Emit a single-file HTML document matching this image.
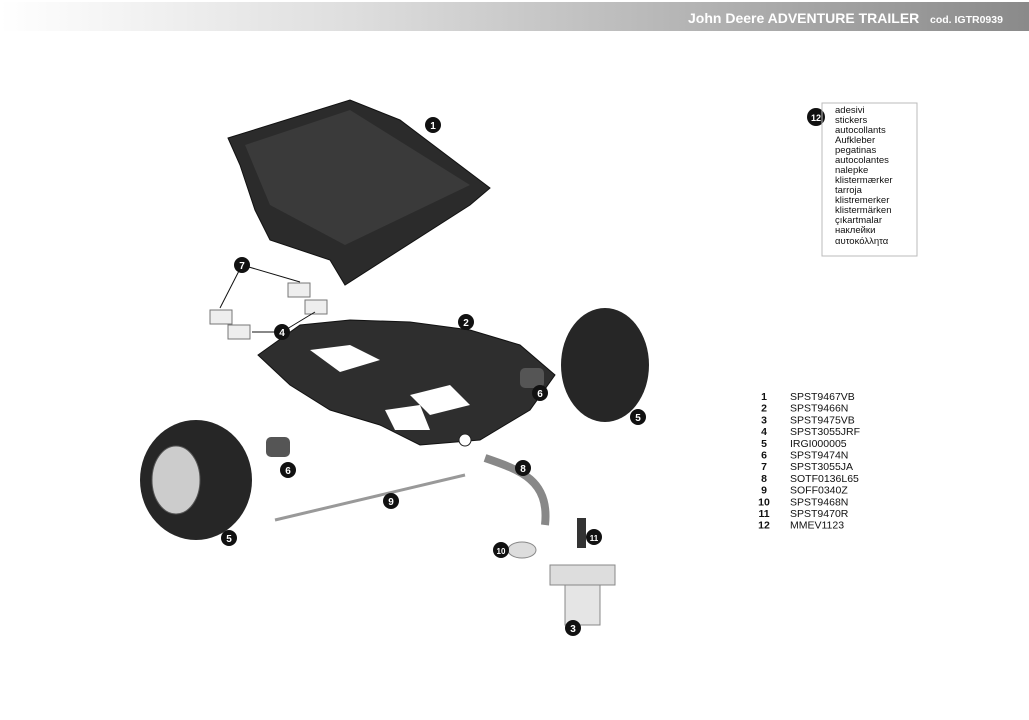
<!DOCTYPE html><html><head><style>
body{margin:0;width:1029px;height:715px;background:#fff;overflow:hidden;font-family:"Liberation Sans",sans-serif}
</style></head><body>
<svg width="1029" height="715" xmlns="http://www.w3.org/2000/svg">
<defs><linearGradient id="h" x1="0" x2="1"><stop offset="0" stop-color="#fff"/><stop offset="0.35" stop-color="#ddd"/><stop offset="1" stop-color="#8a8a8a"/></linearGradient></defs>
<rect x="0" y="2" width="1029" height="29" fill="url(#h)"/>
<text x="688" y="23" fill="#fff" font-weight="bold" font-size="14">John Deere ADVENTURE TRAILER</text>
<text x="930" y="23" fill="#fff" font-weight="bold" font-size="10.5">cod. IGTR0939</text>
<!-- tub -->
<polygon points="228,138 350,100 400,120 490,188 470,205 345,285 330,260 270,240 255,210 240,165" fill="#2b2b2b" stroke="#111"/>
<polygon points="245,145 350,110 470,185 345,245 270,205" fill="#3a3a3a"/>
<!-- chassis -->
<polygon points="258,355 300,325 350,320 410,322 470,330 520,345 555,375 530,410 480,440 420,445 380,425 330,410 290,385" fill="#2e2e2e" stroke="#111"/>
<polygon points="310,350 350,345 380,360 340,372" fill="#fff"/>
<polygon points="410,395 450,385 470,405 430,415" fill="#fff"/>
<polygon points="385,410 420,405 430,430 395,430" fill="#fff"/>
<circle cx="465" cy="440" r="6" fill="#fff" stroke="#222"/>
<!-- wheels -->
<ellipse cx="605" cy="365" rx="44" ry="57" fill="#262626"/>
<ellipse cx="196" cy="480" rx="56" ry="60" fill="#262626"/>
<ellipse cx="176" cy="480" rx="24" ry="34" fill="#ccc" stroke="#555"/>
<!-- bushings -->
<rect x="520" y="368" width="24" height="20" rx="5" fill="#555"/>
<rect x="266" y="437" width="24" height="20" rx="5" fill="#555"/>
<!-- axle -->
<line x1="275" y1="520" x2="465" y2="475" stroke="#999" stroke-width="3"/>
<!-- tongue -->
<path d="M485,458 C520,470 550,480 545,525" stroke="#888" stroke-width="8" fill="none"/>
<rect x="577" y="518" width="9" height="30" fill="#333"/>
<rect x="550" y="565" width="65" height="20" fill="#ddd" stroke="#888"/>
<rect x="565" y="585" width="35" height="40" fill="#e5e5e5" stroke="#888"/>
<ellipse cx="522" cy="550" rx="14" ry="8" fill="#ddd" stroke="#888"/>
<!-- small parts 7,4 -->
<g fill="#eee" stroke="#777"><rect x="210" y="310" width="22" height="14"/><rect x="288" y="283" width="22" height="14"/><rect x="305" y="300" width="22" height="14"/><rect x="228" y="325" width="22" height="14"/></g>
<g stroke="#111"><line x1="242" y1="265" x2="220" y2="308"/><line x1="242" y1="265" x2="300" y2="282"/><line x1="282" y1="332" x2="252" y2="332"/><line x1="282" y1="332" x2="315" y2="312"/></g>
<g fill="#111" font-weight="bold" font-size="10" text-anchor="middle">
<circle cx="433" cy="125" r="8"/><circle cx="466" cy="322" r="8"/><circle cx="573" cy="628" r="8"/><circle cx="282" cy="332" r="8"/><circle cx="638" cy="417" r="8"/><circle cx="229" cy="538" r="8"/><circle cx="540" cy="393" r="8"/><circle cx="288" cy="470" r="8"/><circle cx="242" cy="265" r="8"/><circle cx="523" cy="468" r="8"/><circle cx="391" cy="501" r="8"/><circle cx="501" cy="550" r="8"/><circle cx="594" cy="537" r="8"/><circle cx="816" cy="117" r="9"/>
<g fill="#fff"><text x="433" y="129">1</text><text x="466" y="326">2</text><text x="573" y="632">3</text><text x="282" y="336">4</text><text x="638" y="421">5</text><text x="229" y="542">5</text><text x="540" y="397">6</text><text x="288" y="474">6</text><text x="242" y="269">7</text><text x="523" y="472">8</text><text x="391" y="505">9</text><text x="501" y="554" font-size="8">10</text><text x="594" y="541" font-size="8">11</text><text x="816" y="121" font-size="9">12</text></g></g>
<rect x="822" y="103" width="95" height="153" fill="none" stroke="#bbb"/>
<g font-size="9.5" fill="#111">
<text x="835" y="113">adesivi</text><text x="835" y="123">stickers</text><text x="835" y="133">autocollants</text><text x="835" y="143">Aufkleber</text><text x="835" y="153">pegatinas</text><text x="835" y="163">autocolantes</text><text x="835" y="173">nalepke</text><text x="835" y="183">klistermærker</text><text x="835" y="193">tarroja</text><text x="835" y="203">klistremerker</text><text x="835" y="213">klistermärken</text><text x="835" y="223">çıkartmalar</text><text x="835" y="233">наклейки</text><text x="835" y="244">αυτοκόλλητα</text></g>
<g font-size="10.5" fill="#111">
<g font-weight="bold" text-anchor="middle">
<text x="764" y="400">1</text><text x="764" y="411.7">2</text><text x="764" y="423.4">3</text><text x="764" y="435.1">4</text><text x="764" y="446.8">5</text><text x="764" y="458.5">6</text><text x="764" y="470.2">7</text><text x="764" y="481.9">8</text><text x="764" y="493.6">9</text><text x="764" y="505.3">10</text><text x="764" y="517">11</text><text x="764" y="528.7">12</text></g>
<text x="790" y="400">SPST9467VB</text><text x="790" y="411.7">SPST9466N</text><text x="790" y="423.4">SPST9475VB</text><text x="790" y="435.1">SPST3055JRF</text><text x="790" y="446.8">IRGI000005</text><text x="790" y="458.5">SPST9474N</text><text x="790" y="470.2">SPST3055JA</text><text x="790" y="481.9">SOTF0136L65</text><text x="790" y="493.6">SOFF0340Z</text><text x="790" y="505.3">SPST9468N</text><text x="790" y="517">SPST9470R</text><text x="790" y="528.7">MMEV1123</text></g>
</svg></body></html>
